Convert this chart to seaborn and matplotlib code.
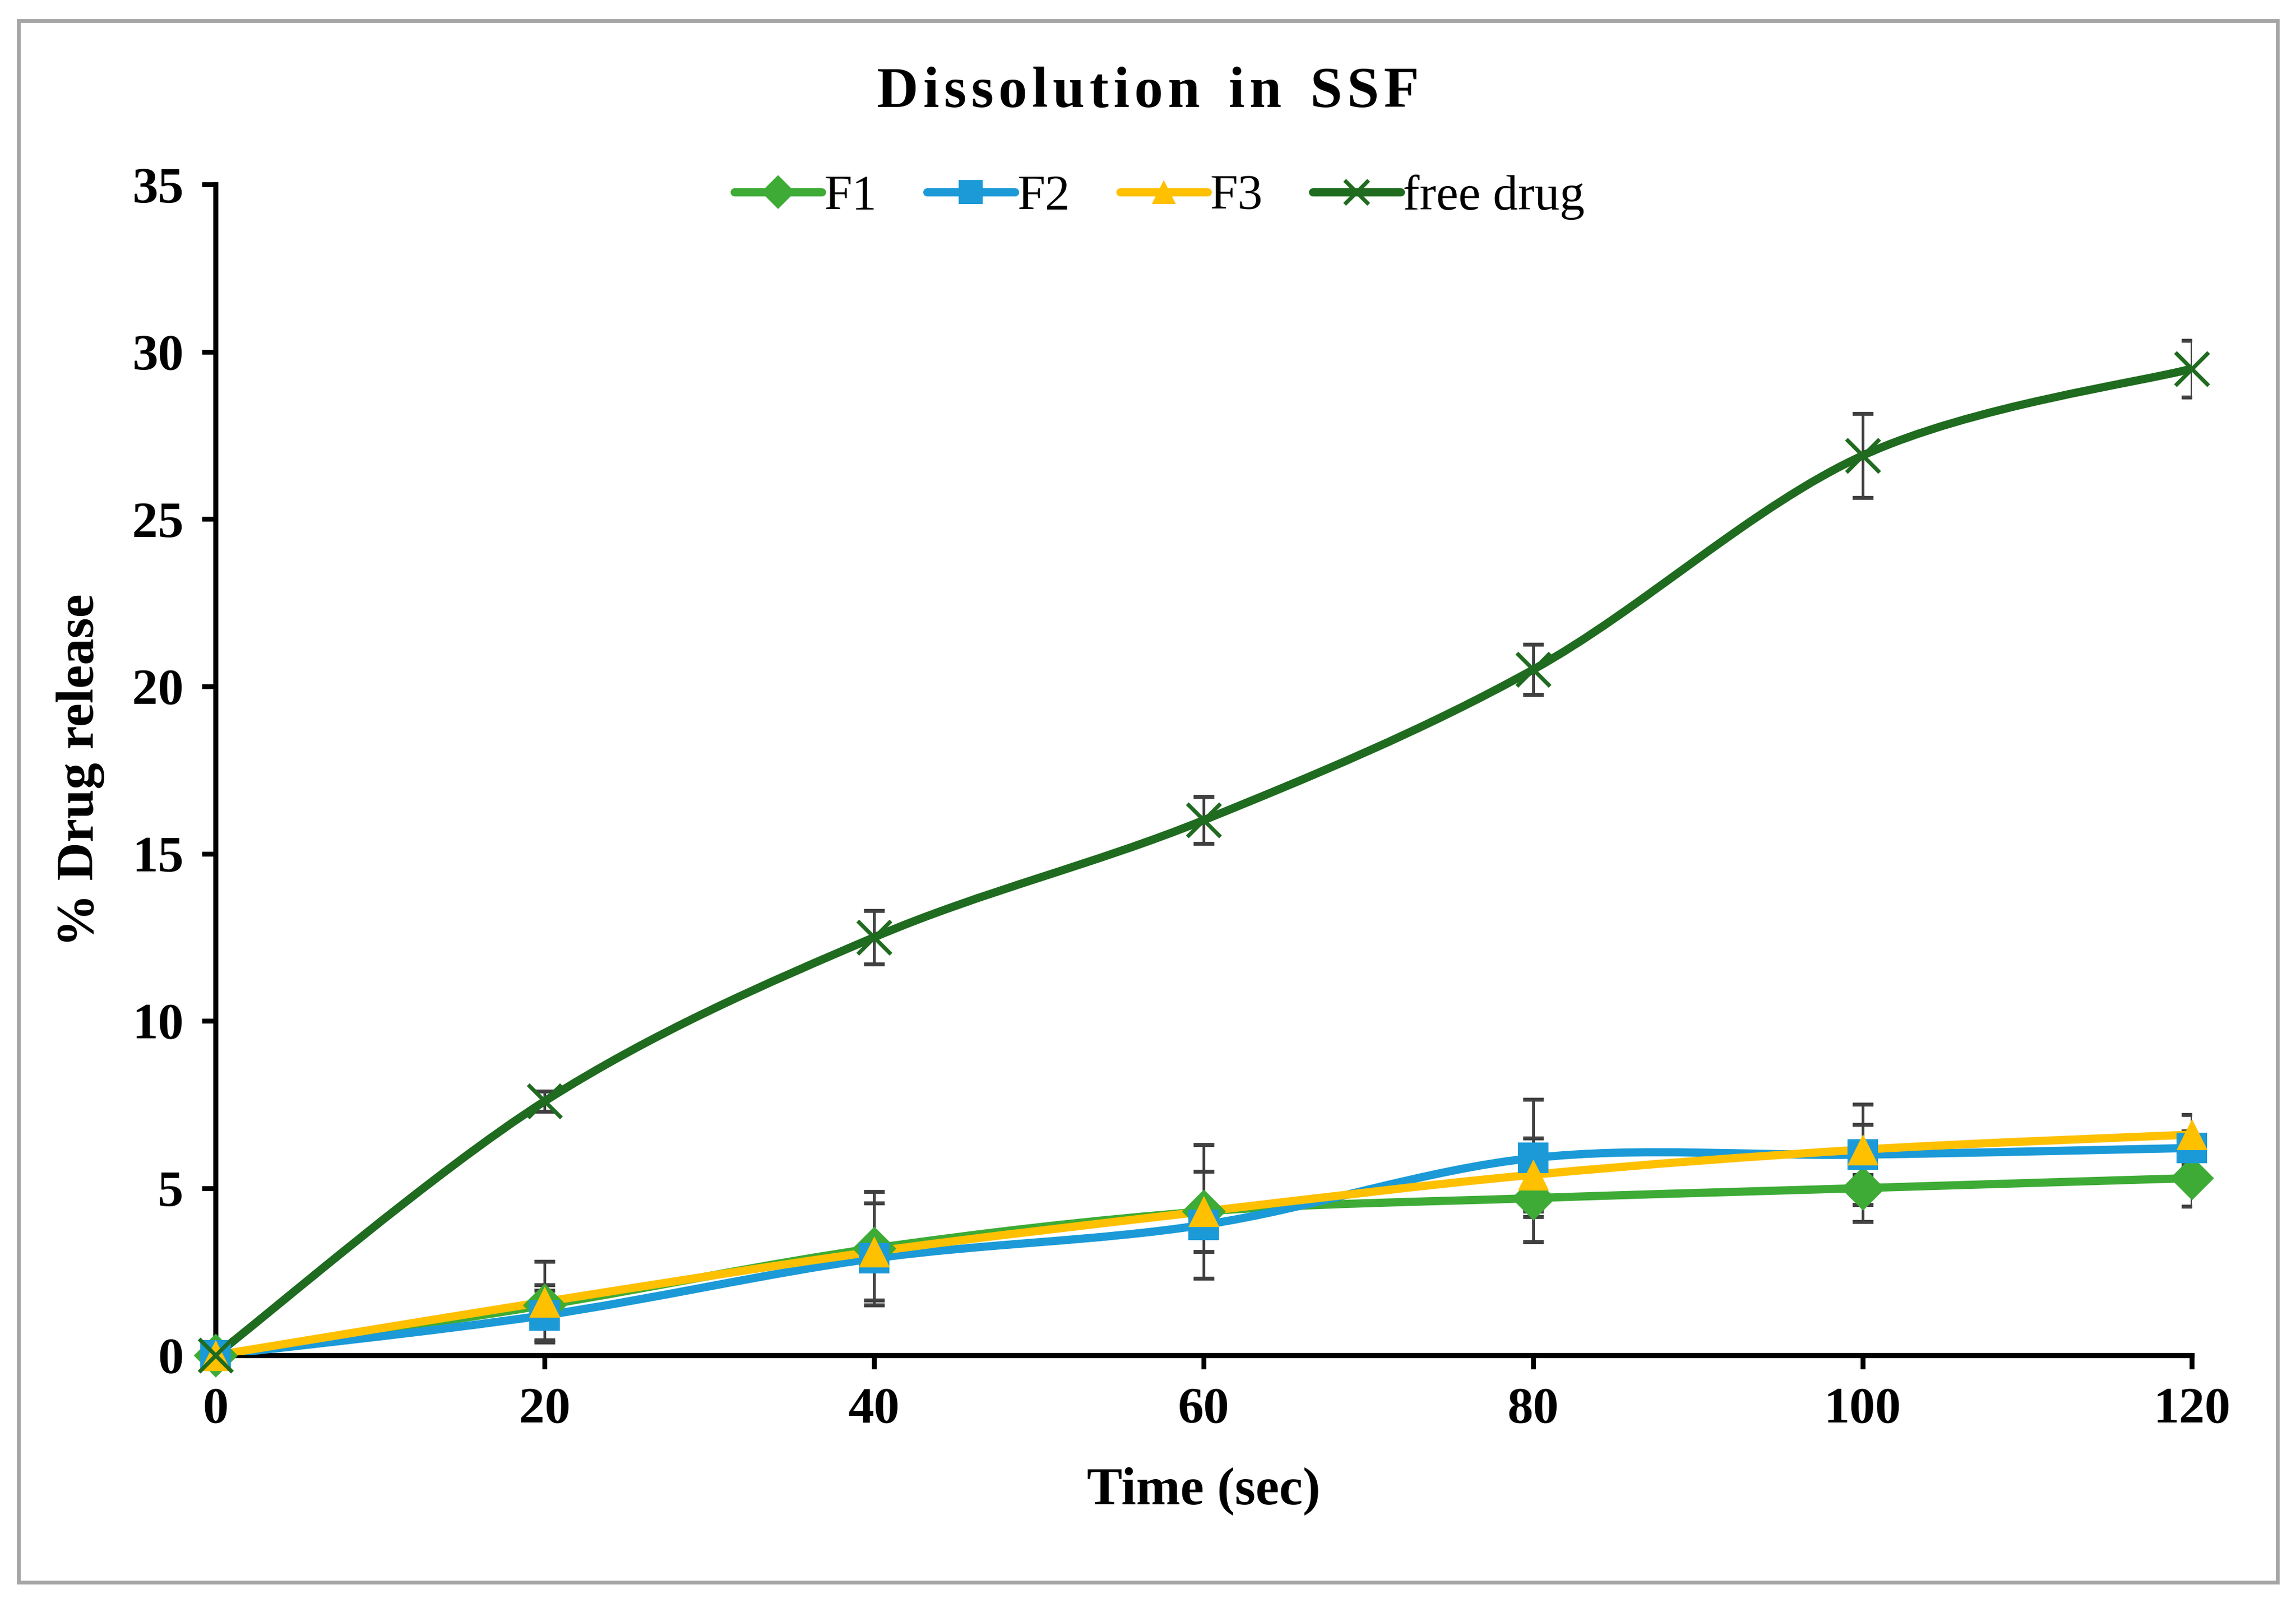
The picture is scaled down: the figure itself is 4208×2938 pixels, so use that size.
import numpy as np
import pandas as pd
import matplotlib
matplotlib.use("Agg")
from matplotlib import pyplot as plt
from matplotlib.path import Path
from matplotlib.patches import PathPatch, Rectangle
from matplotlib.lines import Line2D
from matplotlib.font_manager import FontProperties
import seaborn as sns

time = [0, 20, 40, 60, 80, 100, 120]
f1 = [0, 1.5, 3.2, 4.3, 4.7, 5.0, 5.3]
f2 = [0, 1.2, 2.9, 3.9, 5.9, 6.0, 6.2]
f3 = [0, 1.6, 3.1, 4.3, 5.4, 6.15, 6.6]
free_drug = [0, 7.6, 12.5, 16.0, 20.5, 26.9, 29.5]

f1_err = [0, 0.6, 1.7, 1.2, 1.3, 1.0, 0.85]
f2_err = [0, 0.75, 0.3, 0.3, 1.75, 1.5, 0.5]
f3_err = [0, 1.2, 1.45, 2.0, 1.1, 0.75, 0.6]
free_err = [0, 0.3, 0.8, 0.7, 0.75, 1.25, 0.85]

series = ["F1", "F2", "F3", "free drug"]
colors = {"F1": "#3dab35", "F2": "#1b9ad7", "F3": "#ffc000", "free drug": "#1f6b1f"}
markers = {"F1": "D", "F2": "s", "F3": "^", "free drug": "x"}

rows = []
for name, vals, errs in zip(series, [f1, f2, f3, free_drug], [f1_err, f2_err, f3_err, free_err]):
    for t, v, e in zip(time, vals, errs):
        rows.append([name, t, v, e])
df = pd.DataFrame(rows, columns=["Series", "Time", "Release", "Err"])

sns.set_style("white")
plt.rcParams["font.family"] = ["Liberation Serif", "DejaVu Serif"]
plt.rcParams["text.color"] = "black"
plt.rcParams["axes.labelcolor"] = "black"
plt.rcParams["xtick.color"] = "black"
plt.rcParams["ytick.color"] = "black"
serif = ["Liberation Serif", "DejaVu Serif"]


def smooth_path(xs, ys):
    # catmull-rom style bezier, like Excel's smoothed line
    pts = np.column_stack([xs, ys]).astype(float)
    ext = np.vstack([pts[0], pts, pts[-1]])
    verts = [pts[0]]
    codes = [Path.MOVETO]
    for i in range(1, len(ext) - 2):
        p0, p1, p2, p3 = ext[i - 1], ext[i], ext[i + 1], ext[i + 2]
        verts += [p1 + (p2 - p0) / 6, p2 - (p3 - p1) / 6, p2]
        codes += [Path.CURVE4] * 3
    return Path(verts, codes)


fig = plt.figure(figsize=(21.04, 14.69), dpi=200)
ax = fig.add_axes([0.0938, 0.1545, 0.8609, 0.7303])

for name in series:
    d = df[df["Series"] == name]
    ax.errorbar(d["Time"], d["Release"], yerr=d["Err"], fmt="none",
                ecolor="#404040", elinewidth=1.8, capsize=7, capthick=2.6, zorder=2)

for name in series:
    d = df[df["Series"] == name]
    patch = PathPatch(smooth_path(d["Time"].values, d["Release"].values), fill=False,
                      edgecolor=colors[name], linewidth=5.4, capstyle="round", zorder=3)
    ax.add_patch(patch)
    sns.scatterplot(data=d, x="Time", y="Release", ax=ax, marker=markers[name],
                    color=colors[name], s=420 if name != "free drug" else 480,
                    linewidth=2.6 if name == "free drug" else 0, zorder=4, legend=False,
                    clip_on=False)

ax.set_xlim(0, 120)
ax.set_ylim(0, 35)
ax.set_xticks(time)
ax.set_yticks(range(0, 36, 5))
ax.set_xlabel("Time (sec)", fontsize=35, fontweight="bold", labelpad=22, family=serif)
ax.set_ylabel("% Drug release", fontsize=35, fontweight="bold", labelpad=18, family=serif)
ax.tick_params(axis="both", direction="out", length=9, width=3.2, labelsize=34, pad=12,
               left=True, bottom=True, colors="black")
for lab in ax.get_xticklabels() + ax.get_yticklabels():
    lab.set_fontweight("bold")
    lab.set_family(serif)
for s in ["top", "right"]:
    ax.spines[s].set_visible(False)
for s in ["left", "bottom"]:
    ax.spines[s].set_linewidth(3.4)
    ax.spines[s].set_color("black")

title = "\u200a".join("Dissolution") + "  " + "\u200a".join("in") + "  " + "\u200a".join("SSF")
fig.text(0.5, 0.942, title, ha="center", va="center", fontsize=38, fontweight="bold",
         family=serif, color="black")

handles = [Line2D([], [], color=colors[n], marker=markers[n], markersize=16,
                  markeredgewidth=2.6 if n == "free drug" else 0, linewidth=5.4)
           for n in series]
fig.legend(handles, series, loc="center", bbox_to_anchor=(0.505, 0.877), ncol=4,
           frameon=False, prop=FontProperties(family=serif, size=33),
           handlelength=1.75, handletextpad=0.05, columnspacing=1.0, labelcolor="black")

fig.add_artist(Rectangle((0.008, 0.013), 0.984, 0.974, transform=fig.transFigure,
                         fill=False, edgecolor="#a6a6a6", linewidth=2.5))

plt.savefig("out.png", dpi=200)
